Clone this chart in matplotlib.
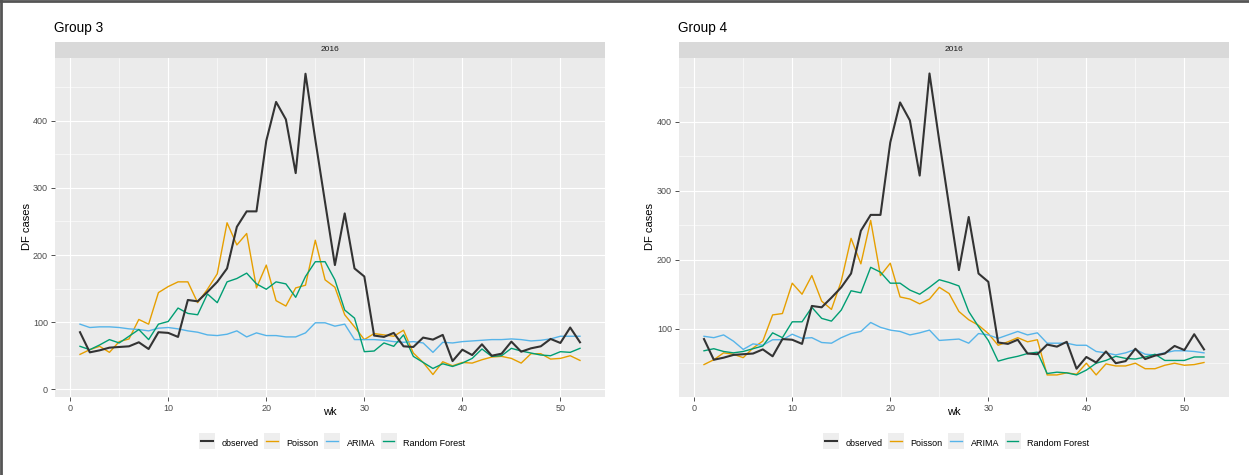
import numpy as np
import matplotlib
matplotlib.use("Agg")
import matplotlib.pyplot as plt
from matplotlib.lines import Line2D
from matplotlib.patches import Rectangle
from matplotlib.legend_handler import HandlerBase
from matplotlib.ticker import MultipleLocator

plt.rcParams['font.family'] = ['Liberation Sans', 'DejaVu Sans']

# ---- data -------------------------------------------------------------
weeks = np.arange(1, 53)
series_names = ["observed", "Poisson", "ARIMA", "Random Forest"]
year_label = "2016"

observed = [85, 55, 58, 62, 63, 64, 70, 60, 85, 84,
            78, 133, 131, 145, 160, 180, 242, 265, 265, 370,
            428, 402, 322, 470, 372, 278, 185, 262, 180, 168,
            80, 78, 84, 64, 63, 77, 74, 81, 42, 59,
            51, 67, 50, 53, 71, 56, 61, 64, 75, 69,
            92, 70]

g3_poisson = [52, 59, 64, 55, 71, 75, 104, 97, 144, 153,
              160, 160, 129, 149, 172, 248, 215, 232, 151, 185,
              132, 124, 151, 155, 222, 163, 152, 111, 93, 74,
              83, 81, 79, 88, 54, 40, 22, 41, 35, 40,
              39, 44, 48, 49, 46, 39, 53, 53, 45, 46,
              50, 43]
g3_arima = [97, 92, 93, 93, 92, 90, 89, 87, 91, 92,
            90, 87, 85, 81, 80, 82, 87, 78, 84, 80,
            80, 78, 78, 84, 99, 99, 94, 97, 74, 74,
            74, 73, 71, 70, 71, 69, 55, 70, 69, 71,
            72, 73, 74, 74, 75, 74, 72, 73, 75, 79,
            79, 79]
g3_rf = [64, 59, 66, 74, 69, 79, 89, 74, 97, 101,
         121, 113, 111, 142, 129, 160, 165, 173, 157, 149,
         160, 157, 137, 168, 190, 190, 163, 118, 106, 56,
         57, 69, 64, 81, 49, 40, 31, 38, 34, 39,
         46, 60, 49, 50, 61, 57, 54, 51, 50, 56,
         55, 61]

g4_poisson = [48, 55, 65, 63, 58, 72, 82, 120, 122, 166,
              150, 177, 140, 128, 169, 231, 194, 257, 177, 195,
              146, 143, 136, 143, 160, 151, 125, 113, 105, 93,
              76, 81, 87, 81, 84, 33, 33, 36, 34, 50,
              33, 49, 46, 46, 50, 42, 42, 47, 50, 47,
              48, 51]
g4_arima = [89, 87, 91, 82, 70, 78, 76, 84, 84, 92,
            86, 87, 80, 79, 87, 93, 96, 109, 102, 98,
            96, 91, 94, 98, 83, 84, 85, 79, 93, 91,
            86, 91, 96, 91, 94, 79, 79, 79, 76, 76,
            67, 65, 62, 65, 70, 63, 62, 65, 68, 68,
            67, 65]
g4_rf = [68, 71, 67, 65, 67, 71, 75, 94, 87, 110,
         110, 131, 115, 111, 127, 155, 152, 189, 182, 166,
         166, 156, 150, 160, 171, 167, 162, 125, 103, 83,
         53, 57, 60, 64, 66, 35, 37, 36, 33, 40,
         50, 54, 60, 57, 56, 59, 63, 54, 54, 54,
         59, 59]

# ---- styling ----------------------------------------------------------
colors = ["#333333", "#E69F00", "#56B4E9", "#009E73"]
widths = [1.5, 1.0, 1.0, 1.0]
zorders = [5, 3, 3, 3]
KEY_FILL = "#EEEEEE"

W, H = 1249, 475
fig = plt.figure(figsize=(W / 100, H / 100), dpi=100)


def fx(px):
    return px / W


def fy(py):
    return 1 - py / H


class KeyHandler(HandlerBase):
    """Square grey key with a short line through its middle."""

    def create_artists(self, legend, orig_handle, xdescent, ydescent,
                       width, height, fontsize, trans):
        cy = (height - ydescent) / 2.0
        x0 = -xdescent
        box = Rectangle((x0, cy - width / 2.0), width, width,
                        facecolor=KEY_FILL, edgecolor="none",
                        transform=trans)
        line = Line2D([x0 + 0.15 * width, x0 + 0.85 * width], [cy, cy],
                      color=orig_handle.get_color(),
                      lw=orig_handle.get_linewidth(), transform=trans)
        return [box, line]


PANEL_TOP, PANEL_BOTTOM, PANEL_W = 58.3, 397.0, 550.0
STRIP_TOP = 41.5

panels = [
    dict(title="Group 3", left=55, ylim=(-11.5, 493),
         data=[observed, g3_poisson, g3_arima, g3_rf],
         ylab_x=27, legend_x=332),
    dict(title="Group 4", left=679, ylim=(1, 492),
         data=[observed, g4_poisson, g4_arima, g4_rf],
         ylab_x=650, legend_x=956),
]

for p in panels:
    left = p["left"]
    ax = fig.add_axes([fx(left), fy(PANEL_BOTTOM), PANEL_W / W,
                       (PANEL_BOTTOM - PANEL_TOP) / H])
    ax.set_facecolor("#EBEBEB")
    for s in ax.spines.values():
        s.set_visible(False)
    ax.set_xlim(-1.55, 54.55)
    ax.set_ylim(*p["ylim"])
    ax.xaxis.set_major_locator(MultipleLocator(10))
    ax.xaxis.set_minor_locator(MultipleLocator(5))
    ax.yaxis.set_major_locator(MultipleLocator(100))
    ax.yaxis.set_minor_locator(MultipleLocator(50))
    ax.grid(which="major", color="white", lw=0.85)
    ax.grid(which="minor", color="white", lw=0.4)
    ax.set_axisbelow(True)
    ax.tick_params(which="major", length=3, width=0.6, color="#333333",
                   labelsize=6.5, labelcolor="#4D4D4D", pad=2)
    ax.tick_params(which="minor", length=0)

    line_handles = []
    for vals, c, lw, z in zip(p["data"], colors, widths, zorders):
        ln, = ax.plot(weeks, vals, color=c, lw=lw, zorder=z,
                      solid_joinstyle="round")
        line_handles.append(ln)

    # facet strip
    sax = fig.add_axes([fx(left), fy(PANEL_TOP), PANEL_W / W,
                        (PANEL_TOP - STRIP_TOP) / H])
    sax.set_facecolor("#D9D9D9")
    sax.set_xticks([])
    sax.set_yticks([])
    for s in sax.spines.values():
        s.set_visible(False)
    sax.text(0.5, 0.5, year_label, ha="center", va="center",
             fontsize=6, color="#1A1A1A", transform=sax.transAxes)

    # titles and axis labels
    fig.text(fx(left - 1), fy(28), p["title"], ha="left", va="center",
             fontsize=9.8, color="black")
    fig.text(fx(left + PANEL_W / 2), fy(412), "wk", ha="center",
             va="center", fontsize=8, color="black")
    fig.text(fx(p["ylab_x"]), fy(227), "DF cases", ha="center",
             va="center", rotation=90, fontsize=8, color="black")

    # legend below each panel
    fig.legend(line_handles, series_names,
               handler_map={Line2D: KeyHandler()},
               loc="center", bbox_to_anchor=(fx(p["legend_x"]), fy(443)),
               ncol=4, frameon=False, fontsize=6.5,
               handlelength=1.8, handleheight=1.8,
               handletextpad=0.7, columnspacing=0.6, borderpad=0)

# outer frame on the left and top edges
fig.add_artist(Line2D([fx(1.3), fx(1.3)], [0, 1], color="#555555", lw=2))
fig.add_artist(Line2D([0, 1], [fy(1.3), fy(1.3)], color="#555555", lw=2))

fig.savefig("out.png", dpi=100)
